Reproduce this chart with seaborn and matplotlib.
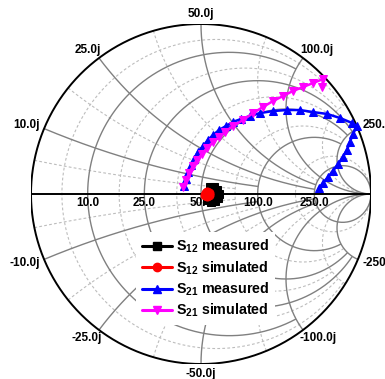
import numpy as np
import matplotlib
matplotlib.use("Agg")
import matplotlib.pyplot as plt
from matplotlib.lines import Line2D
import seaborn as sns

# ---- measured / simulated transmission data (reflection plane, real & imag) ----
s12_meas_re = [0.053, 0.076, 0.094, 0.106, 0.100, 0.082, 0.059, 0.035]
s12_meas_im = [0.041, 0.041, 0.024, 0.000, -0.024, -0.041, -0.047, -0.035]

s12_sim_re = [0.029, 0.035, 0.047, 0.047, 0.035, 0.024]
s12_sim_im = [0.006, 0.012, 0.006, -0.006, -0.012, -0.006]

s21_meas_re = [-0.100, -0.088, -0.076, -0.059, -0.041, -0.018, 0.012, 0.041, 0.071,
               0.106, 0.147, 0.188, 0.235, 0.288, 0.347, 0.424, 0.506, 0.582, 0.659,
               0.741, 0.818, 0.888, 0.918, 0.894, 0.876, 0.859, 0.835, 0.806, 0.776,
               0.747, 0.718, 0.694]
s21_meas_im = [0.047, 0.088, 0.129, 0.171, 0.206, 0.247, 0.282, 0.318, 0.347,
               0.376, 0.400, 0.424, 0.441, 0.459, 0.476, 0.488, 0.494, 0.494, 0.482,
               0.471, 0.447, 0.418, 0.400, 0.353, 0.306, 0.259, 0.218, 0.176, 0.135,
               0.100, 0.065, 0.035]

s21_sim_re = [-0.106, -0.088, -0.071, -0.047, -0.024, 0.006, 0.035, 0.071, 0.106,
              0.141, 0.188, 0.247, 0.306, 0.365, 0.424, 0.482, 0.541, 0.600, 0.659,
              0.718, 0.712]
s21_sim_im = [0.041, 0.082, 0.124, 0.165, 0.200, 0.235, 0.271, 0.306, 0.335,
              0.365, 0.400, 0.435, 0.476, 0.512, 0.547, 0.576, 0.606, 0.629, 0.653,
              0.676, 0.629]

series_labels = [r"$\mathbf{S_{12}}$ measured", r"$\mathbf{S_{12}}$ simulated",
                 r"$\mathbf{S_{21}}$ measured", r"$\mathbf{S_{21}}$ simulated"]
series_colors = ["#000000", "#ff0000", "#0000ff", "#ff00ff"]
series_markers = ["s", "o", "^", "v"]
series_msize = [6.0, 6.5, 5.8, 5.8]

# ---- Smith chart grid (normalised to Z0) ----
Z0 = 50.0
major_r = [0.2, 0.5, 1.0, 2.0, 5.0]
major_x = [0.2, 0.5, 1.0, 2.0, 5.0]
minor_r = [0.1, 0.35, 0.75, 1.5, 3.5]
minor_x = [0.1, 0.35, 0.75, 1.5, 3.5]

sns.set_style("white")
plt.rcParams["font.family"] = ["Liberation Sans", "DejaVu Sans"]
plt.rcParams["font.weight"] = "bold"
plt.rcParams["text.color"] = "black"
plt.rcParams["mathtext.fontset"] = "custom"
plt.rcParams["mathtext.rm"] = "Liberation Sans:bold"
plt.rcParams["mathtext.bf"] = "Liberation Sans:bold"
plt.rcParams["mathtext.it"] = "Liberation Sans:bold"
plt.rcParams["mathtext.default"] = "bf"

W, H = 385, 379
fig = plt.figure(figsize=(W / 100, H / 100), dpi=100)
fig.patch.set_facecolor("white")
ax = fig.add_axes([31 / W, 15 / H, 340 / W, 340 / H])


def gamma(z):
    return (z - 1) / (z + 1)


def real_limit(r, r_prev, x_ticks, thr):
    for x in x_ticks:
        if abs(gamma(r + 1j * x) - gamma(r_prev + 1j * x)) < thr:
            return x
    return np.inf


def imag_limit(x, x_prev, r_ticks, thr):
    for r in r_ticks:
        if abs(gamma(r + 1j * x) - gamma(r + 1j * x_prev)) < thr:
            return r
    return np.inf


def draw_real(r, x_end, **kw):
    t = np.linspace(-np.arctan(x_end), np.arctan(x_end), 600)
    g = gamma(r + 1j * np.tan(t))
    ax.plot(g.real, g.imag, **kw)


def draw_imag(x, r_end, **kw):
    t = np.linspace(0, np.arctan(r_end), 600)
    g = gamma(np.tan(t) + 1j * x)
    ax.plot(g.real, g.imag, **kw)


major_kw = dict(color="#808080", lw=1.0, zorder=2, solid_capstyle="butt")
minor_kw = dict(color="#bdbdbd", lw=0.8, ls=(0, (2.5, 2.0)), zorder=1)

# major grid, trimmed where neighbouring lines crowd together
prev = 0.0
for r in major_r:
    draw_real(r, real_limit(r, prev, major_x, 0.1), **major_kw)
    prev = r
prev = 0.0
for x in major_x:
    lim = imag_limit(x, prev, major_r, 0.05)
    draw_imag(x, lim, **major_kw)
    draw_imag(-x, lim, **major_kw)
    prev = x

# minor grid
all_r = sorted(major_r + minor_r)
all_x = sorted(major_x + minor_x)
for r in minor_r:
    i = all_r.index(r)
    p = all_r[i - 1] if i > 0 else 0.0
    draw_real(r, real_limit(r, p, all_x, 0.035), **minor_kw)
for x in minor_x:
    i = all_x.index(x)
    p = all_x[i - 1] if i > 0 else 0.0
    lim = imag_limit(x, p, all_r, 0.035)
    draw_imag(x, lim, **minor_kw)
    draw_imag(-x, lim, **minor_kw)

# outer boundary and real axis
th = np.linspace(0, 2 * np.pi, 800)
ax.plot(np.cos(th), np.sin(th), color="black", lw=1.4, zorder=3)
ax.plot([-1, 1], [0, 0], color="black", lw=1.4, zorder=3)

# resistance labels on the real axis
for r in major_r:
    g = gamma(r)
    ax.annotate(f"{r * Z0:.1f}", xy=(g.real, 0), xytext=(0, -2.5),
                textcoords="offset points", ha="center", va="top",
                fontsize=8.5, fontweight="bold", color="black", zorder=3)

# reactance labels around the boundary
fig.canvas.draw()
renderer = fig.canvas.get_renderer()
for x in major_x:
    for sgn in (1, -1):
        g = gamma(1j * sgn * x)
        c, s = g.real, g.imag
        txt = ax.annotate(f"{sgn * x * Z0:.1f}j", xy=(c, s), xytext=(0, 0),
                          textcoords="offset points", ha="center", va="center",
                          fontsize=8.5, fontweight="bold", color="black", zorder=3)
        w = txt.get_window_extent(renderer).width
        dx = c * (w / 2 + 6.0)
        dy = s * (4.0 + 5.5)
        txt.set_position((dx * 0.72, dy * 0.72))

# traces
traces = [(s12_meas_re, s12_meas_im), (s12_sim_re, s12_sim_im),
          (s21_meas_re, s21_meas_im), (s21_sim_re, s21_sim_im)]
for k, (re_, im_) in enumerate(traces):
    sns.lineplot(x=re_, y=im_, sort=False, estimator=None, ax=ax,
                 color=series_colors[k], marker=series_markers[k],
                 markersize=series_msize[k], markeredgecolor=series_colors[k],
                 linewidth=1.8, zorder=5 + k, label=series_labels[k])

handles = [Line2D([], [], color=series_colors[k], marker=series_markers[k],
                  markersize=6.0, markeredgecolor=series_colors[k], lw=2.2)
           for k in range(4)]
leg = ax.legend(handles, series_labels, loc="upper left",
                bbox_to_anchor=(136 / W, 1 - 232 / H), bbox_transform=fig.transFigure,
                borderaxespad=0, frameon=True, fancybox=False, framealpha=1,
                facecolor="white", edgecolor="none", handlelength=2.15,
                handletextpad=0.25, labelspacing=0.28, borderpad=0.4,
                prop={"size": 10.3, "weight": "bold"})
for t in leg.get_texts():
    t.set_color("black")
leg.set_zorder(20)

ax.set_xlim(-1, 1)
ax.set_ylim(-1, 1)
ax.set_aspect("equal")
ax.axis("off")

fig.savefig("out.png", dpi=100, facecolor="white")
